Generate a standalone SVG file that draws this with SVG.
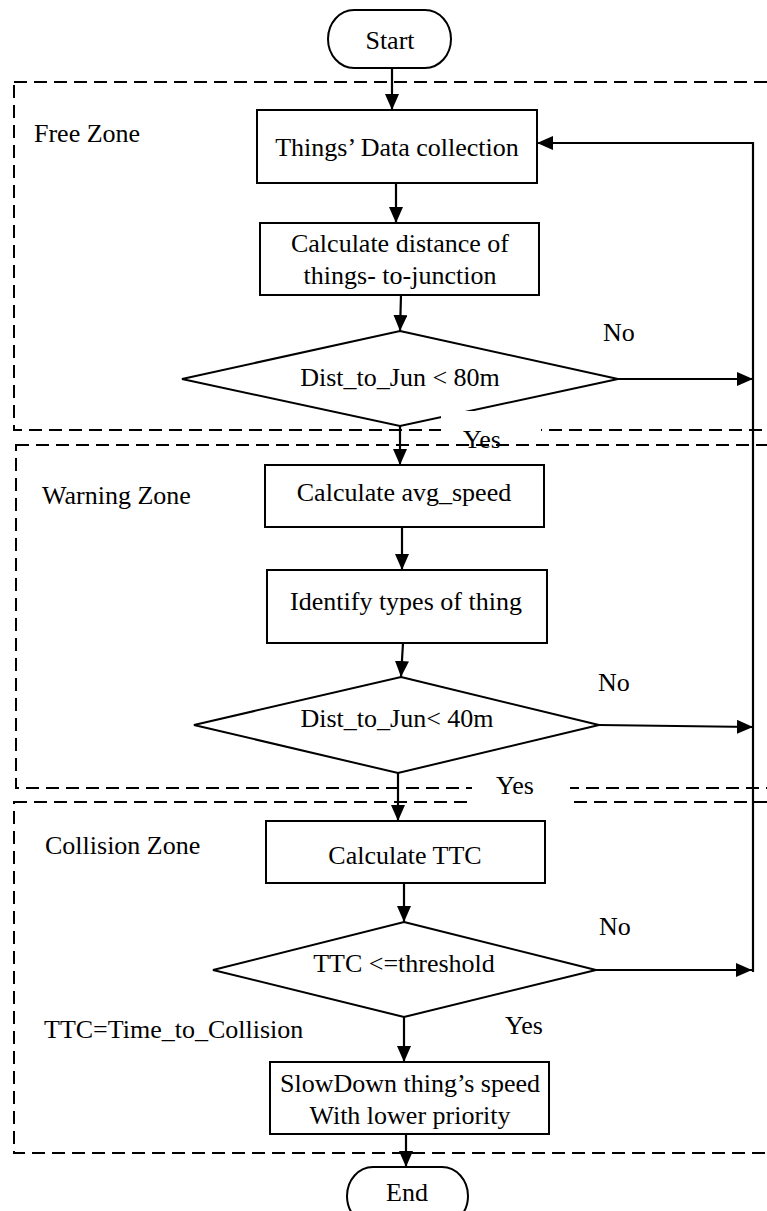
<svg xmlns="http://www.w3.org/2000/svg" width="767" height="1211" viewBox="0 0 767 1211">
<style>
  text { font-family: "Liberation Serif", "Times New Roman", serif; font-size: 26px; fill: #000; }
  .c { text-anchor: middle; }
  .box { fill: #fff; stroke: #000; stroke-width: 2; }
  .zone { fill: none; stroke: #000; stroke-width: 2; stroke-dasharray: 13 7; }
  .arr { fill: none; stroke: #000; stroke-width: 2.2; marker-end: url(#ah); }
  .mask { fill: #fff; stroke: none; }
</style>
<defs>
  <marker id="ah" markerUnits="userSpaceOnUse" markerWidth="16" markerHeight="14" refX="16" refY="7" orient="auto">
    <path d="M0,0 L16,7 L0,14 Z" fill="#000"/>
  </marker>
</defs>
<rect width="767" height="1211" fill="#fff"/>

<g id="zones">
  <rect class="zone" x="14" y="82" width="780" height="348"/>
  <rect class="zone" x="16" y="445" width="780" height="343"/>
  <rect class="zone" x="14" y="802" width="780" height="351"/>
</g>

<g id="zone-labels">
  <text x="34" y="142">Free Zone</text>
  <text x="42" y="504">Warning Zone</text>
  <text x="45" y="854">Collision Zone</text>
  <text x="44" y="1038">TTC=Time_to_Collision</text>
</g>

<g id="connectors">
  <line class="arr" x1="392" y1="68" x2="392" y2="110"/>
  <line class="arr" x1="396" y1="183" x2="396" y2="223"/>
  <line class="arr" x1="401" y1="295" x2="400" y2="331"/>
  <line class="arr" x1="400" y1="426" x2="400" y2="465"/>
  <line class="arr" x1="402" y1="527" x2="402" y2="570"/>
  <line class="arr" x1="403" y1="643" x2="401" y2="677"/>
  <line class="arr" x1="398" y1="773" x2="398" y2="821"/>
  <line class="arr" x1="404" y1="883" x2="404" y2="922"/>
  <line class="arr" x1="404" y1="1017" x2="404" y2="1062"/>
  <line class="arr" x1="406" y1="1134" x2="406" y2="1167"/>
  <line class="arr" x1="618" y1="379" x2="753" y2="379"/>
  <line class="arr" x1="599" y1="725" x2="753" y2="727"/>
  <line class="arr" x1="595" y1="970" x2="752" y2="970"/>
  <polyline class="arr" points="753,972 753,143 537,143"/>
</g>

<g id="start">
  <rect class="box" x="328" y="10" width="123" height="58" rx="26" ry="29"/>
  <text class="c" x="390" y="49">Start</text>
</g>

<g id="data-collection">
  <rect class="box" x="257" y="110" width="280" height="73"/>
  <text class="c" x="397" y="156">Things’ Data collection</text>
</g>

<g id="calc-distance">
  <rect class="box" x="260" y="223" width="279" height="72"/>
  <text class="c" x="400" y="252">Calculate distance of</text>
  <text class="c" x="400" y="284">things- to-junction</text>
</g>

<g id="decision-80m">
  <polygon class="box" points="400,331 618,379 400,426 182,379"/>
  <text class="c" x="400" y="386">Dist_to_Jun &lt; 80m</text>
  <text x="603" y="341">No</text>
</g>

<g id="yes-1">
  <rect class="mask" x="441" y="411" width="100" height="22"/>
  <text x="463" y="448">Yes</text>
</g>

<g id="avg-speed">
  <rect class="box" x="265" y="465" width="279" height="62"/>
  <text class="c" x="404" y="501">Calculate avg_speed</text>
</g>

<g id="identify">
  <rect class="box" x="267" y="570" width="280" height="73"/>
  <text class="c" x="406" y="610">Identify types of thing</text>
</g>

<g id="decision-40m">
  <polygon class="box" points="401,677 599,725 398,773 194,725"/>
  <text class="c" x="397" y="727">Dist_to_Jun&lt; 40m</text>
  <text x="598" y="691">No</text>
</g>

<g id="yes-2">
  <rect class="mask" x="472" y="775" width="98" height="31"/>
  <text x="496" y="794">Yes</text>
</g>

<g id="calc-ttc">
  <rect class="box" x="266" y="821" width="279" height="62"/>
  <text class="c" x="405" y="864">Calculate TTC</text>
</g>

<g id="decision-ttc">
  <polygon class="box" points="404,922 596,970 404,1017 213,970"/>
  <text class="c" x="404" y="972">TTC &lt;=threshold</text>
  <text x="599" y="935">No</text>
  <text x="505" y="1034">Yes</text>
</g>

<g id="slowdown">
  <rect class="box" x="270" y="1062" width="279" height="72"/>
  <text class="c" x="410" y="1092">SlowDown thing’s speed</text>
  <text class="c" x="410" y="1124">With lower priority</text>
</g>

<g id="end">
  <rect class="box" x="347" y="1167" width="121" height="58" rx="26" ry="29"/>
  <text class="c" x="407" y="1201">End</text>
</g>
</svg>
